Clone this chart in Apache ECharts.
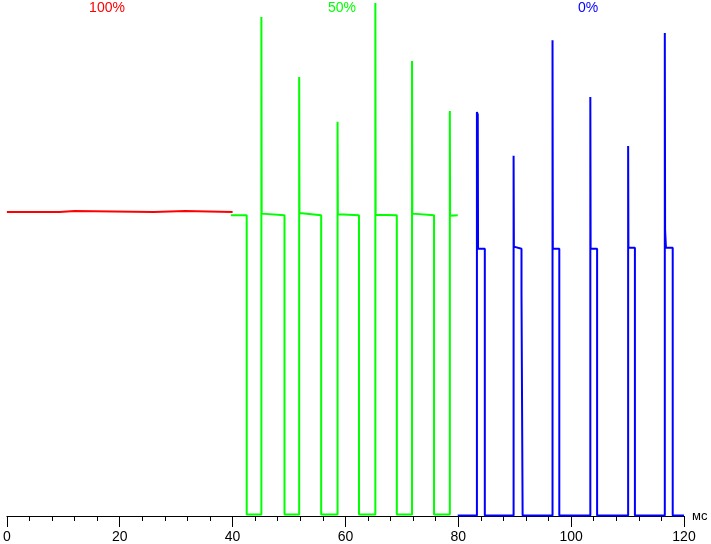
<!DOCTYPE html>
<html>
<head>
<meta charset="utf-8">
<script src="https://cdn.jsdelivr.net/npm/echarts@6/dist/echarts.min.js"></script>
<style>
html,body{margin:0;padding:0;background:#fff;}
#chart{width:711px;height:544px;}
</style>
</head>
<body>
<div id="chart"></div>
<script>
// x in ms, y in relative units (0..100)
var xTicks = [0, 20, 40, 60, 80, 100, 120];
var seriesNames = ['100%', '50%', '0%'];

var red100 = [[0,58.9],[9.3,58.9],[9.3,59.1],[12,59.1],[12,58.9],[26,58.9],[26,59.1],[31.6,59.1],[31.6,58.9],[40.0,58.9]];

var green50 = [[39.7,58.3],[42.5,58.3],[42.5,0.3],[45.1,0.3],[45.1,96.7],[45.15,58.6],[49.2,58.3],[49.2,0.3],
  [51.8,0.3],[51.8,85.1],[51.85,58.7],[55.7,58.3],[55.7,0.3],
  [58.6,0.3],[58.6,76.4],[58.65,58.5],[62.4,58.3],[62.4,0.3],
  [65.3,0.3],[65.3,99.4],[65.35,58.4],[69.1,58.3],[69.1,0.3],
  [71.8,0.3],[71.8,88.2],[71.85,58.6],[75.7,58.3],[75.7,0.3],
  [78.5,0.3],[78.5,78.5],[78.55,58.2],[79.9,58.3]];

var blue0 = [[79.9,0.1],[83.3,0.1],[83.3,78.3],[83.45,77.8],[83.5,51.8],[84.7,51.8],[84.7,0.1],
  [89.8,0.1],[89.8,69.8],[89.85,52.2],[91.2,51.8],[91.2,43.2],[91.4,43.2],[91.4,0.1],
  [96.7,0.1],[96.7,92.2],[96.75,51.8],[97.9,51.8],[97.9,0.1],
  [103.4,0.1],[103.4,81.2],[103.45,51.8],[104.6,51.8],[104.6,0.1],
  [110.1,0.1],[110.1,71.7],[110.15,52],[111.3,52],[111.3,0.1],
  [116.6,0.1],[116.6,93.6],[116.65,55.4],[116.75,55.4],[116.8,52],[118,52],[118,0.1],[120,0.1]];

var colors = ['#ff0000', '#00ff00', '#0000ff'];

var chart = echarts.init(document.getElementById('chart'), null, {renderer:'canvas'});
var font = 'Liberation Sans, Arial, sans-serif';

function mkSeries(name, data, color){
  return {name:name, type:'line', data:data, symbol:'none', showSymbol:false,
    lineStyle:{color:color, width:2}, itemStyle:{color:color}, animation:false, silent:true};
}

chart.setOption({
  animation:false,
  backgroundColor:'#fff',
  grid:{left:4, right:27, top:0, bottom:28, containLabel:false},
  xAxis:{
    type:'value', min:0, max:120, interval:20,
    name:'мс', nameLocation:'end', nameGap:8,
    nameTextStyle:{color:'#000', fontSize:13, fontFamily:font, verticalAlign:'middle'},
    axisLine:{show:true, lineStyle:{color:'#000', width:1}},
    axisTick:{show:true, length:11, lineStyle:{color:'#000'}},
    minorTick:{show:true, splitNumber:5, length:5, lineStyle:{color:'#000'}},
    axisLabel:{color:'#000', fontSize:14, fontFamily:font, margin:14,
      formatter:function(v){ return xTicks.indexOf(v) >= 0 ? String(v) : ''; }},
    splitLine:{show:false}
  },
  yAxis:{type:'value', min:0, max:100, show:false, splitLine:{show:false}},
  graphic:[
    {type:'text', position:[107,8], style:{text:seriesNames[0], fill:colors[0], font:'14px '+font, textAlign:'center', textVerticalAlign:'middle'}},
    {type:'text', position:[342,8], style:{text:seriesNames[1], fill:colors[1], font:'14px '+font, textAlign:'center', textVerticalAlign:'middle'}},
    {type:'text', position:[588,8], style:{text:seriesNames[2], fill:colors[2], font:'14px '+font, textAlign:'center', textVerticalAlign:'middle'}}
  ],
  series:[
    mkSeries(seriesNames[0], red100, colors[0]),
    mkSeries(seriesNames[1], green50, colors[1]),
    mkSeries(seriesNames[2], blue0, colors[2])
  ]
});
</script>
</body>
</html>
